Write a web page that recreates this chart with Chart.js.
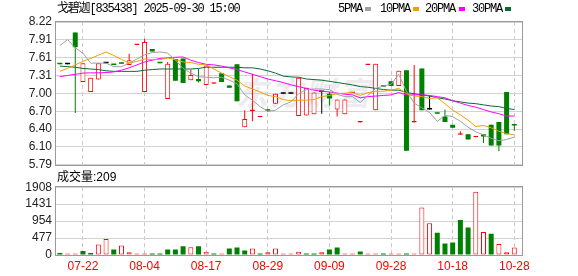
<!DOCTYPE html>
<html>
<head>
<meta charset="utf-8">
<script src="https://cdn.jsdelivr.net/npm/chart.js@4.4.1/dist/chart.umd.min.js"></script>
<style>
  html, body { margin:0; padding:0; background:#fff; }
  body { width:578px; height:276px; position:relative; overflow:hidden; }
  .txt { position:absolute; white-space:nowrap; font-size:12px; line-height:14px; color:#000; }
  .mono { font-family:"Liberation Mono","Noto Sans CJK SC",monospace; letter-spacing:-1.2px; }
  .sw { position:absolute; width:6px; height:4px; }
  #wm { position:absolute; left:236px; top:68px; font:italic bold 32px "Noto Sans CJK SC"; color:#ececef; letter-spacing:2px; white-space:nowrap; }
  canvas { position:absolute; left:0; }
</style>
</head>
<body>
<div id="wm">东方财富</div>
<canvas id="main" width="578" height="176" style="top:0"></canvas>
<canvas id="vol" width="578" height="100" style="top:176px"></canvas>
<div class="txt mono" style="left:57px;top:2px">戈碧迦[835438] 2025-09-30 15:00</div>
<div class="txt mono" style="left:338px;top:2px">5PMA</div>
<div class="sw" style="left:365px;top:7px;background:#a0a0a0"></div>
<div class="txt mono" style="left:380px;top:2px">10PMA</div>
<div class="sw" style="left:413px;top:7px;background:#f0a000"></div>
<div class="txt mono" style="left:425px;top:2px">20PMA</div>
<div class="sw" style="left:459px;top:7px;background:#ff00ff"></div>
<div class="txt mono" style="left:472px;top:2px">30PMA</div>
<div class="sw" style="left:505px;top:7px;background:#086b32"></div>
<div id="vlabel" class="txt" style="left:57px;top:170px;font-family:'Liberation Sans','Noto Sans CJK SC'"></div>
<script>
// ---- data ----
const tickLabels = ['07-22','08-04','08-17','08-29','09-09','09-28','10-18','10-28'];
const tickBars = [4,12,20,28,36,44,52,60];
const priceTickLabels = ['5.79','6.10','6.40','6.70','7.00','7.31','7.61','7.91','8.22'];
const volumeTickLabels = ['0','477','954','1431','1908'];

const open = [7.52,7.50,8.04,7.20,7.03,7.24,7.52,7.50,7.52,7.49,7.83,7.03,7.76,7.53,6.91,7.59,7.60,7.23,7.25,7.15,
              7.17,7.35,7.14,7.50,6.43,6.70,6.60,6.73,6.83,7.00,7.00,6.62,6.63,6.65,7.03,7.00,6.73,6.65,7.01,6.51,
              7.49,6.72,7.13,7.21,7.13,7.40,6.51,7.43,6.73,6.67,6.61,6.47,6.30,6.31,6.26,6.31,6.47,6.52,7.03,6.47];
const high = [7.52,7.50,8.04,7.52,7.27,7.52,7.52,7.50,7.52,7.68,7.84,7.93,7.76,7.53,7.54,7.59,7.60,7.41,7.42,7.48,
              7.18,7.35,7.14,7.50,6.72,7.34,6.61,6.73,7.00,7.00,7.00,7.27,7.10,7.02,7.03,7.03,6.90,6.90,7.02,6.52,
              7.50,7.51,7.13,7.21,7.39,7.40,7.49,7.43,6.97,6.67,6.73,6.47,6.36,6.31,6.27,6.31,6.47,6.52,7.03,6.47];
const low = [7.50,7.50,6.67,7.20,7.03,7.24,7.52,7.49,7.51,7.49,7.83,7.03,7.72,7.52,6.91,7.22,7.18,7.23,7.19,7.15,
             7.17,7.20,7.10,6.87,6.43,6.53,6.60,6.69,6.83,7.00,7.00,6.62,6.63,6.65,6.66,6.80,6.61,6.65,7.01,6.51,
             7.49,6.72,7.12,7.13,7.13,6.03,6.51,6.72,6.73,6.66,6.52,6.42,6.30,6.22,6.26,6.16,6.12,6.02,6.31,6.37];
const close = [7.50,7.50,7.79,7.52,7.27,7.52,7.52,7.49,7.51,7.57,7.84,7.88,7.72,7.52,7.51,7.22,7.18,7.32,7.21,7.48,
               7.18,7.20,7.10,6.87,6.57,6.73,6.61,6.71,7.00,7.00,7.00,7.27,7.10,7.02,7.03,6.92,6.90,6.90,7.02,6.52,
               7.50,7.51,7.12,7.13,7.39,6.03,6.52,6.72,6.73,6.66,6.52,6.42,6.31,6.22,6.27,6.27,6.12,6.12,6.31,6.46];
const volume = [55,40,40,111,55,295,452,157,267,74,40,40,40,40,157,157,249,221,249,92,
                40,40,184,212,129,184,40,74,184,40,40,92,40,40,74,157,212,40,40,101,
                40,40,40,40,40,40,40,1337,894,627,323,350,987,774,1779,645,599,313,74,209];
const ma5 = [7.82,7.92,7.78,7.69,7.52,7.52,7.52,7.46,7.46,7.52,7.59,7.66,7.70,7.71,7.69,7.57,7.43,7.35,7.29,7.28,
             7.27,7.28,7.23,7.17,6.98,6.89,6.78,6.70,6.72,6.81,6.86,7.00,7.07,7.08,7.08,7.07,6.99,6.95,6.95,6.85,
             6.97,7.09,7.13,7.16,7.33,7.04,6.84,6.76,6.68,6.53,6.63,6.61,6.53,6.43,6.35,6.30,6.24,6.20,6.22,6.26];
const ma10 = [7.38,7.43,7.49,7.55,7.60,7.655,7.71,7.65,7.585,7.52,7.55,7.59,7.58,7.58,7.61,7.58,7.54,7.53,7.50,7.49,
              7.42,7.35,7.29,7.23,7.13,7.08,7.03,6.97,6.95,6.90,6.88,6.89,6.89,6.90,6.95,6.97,7.00,7.01,7.02,6.97,
              7.02,7.04,7.04,7.06,7.09,7.00,6.96,6.95,6.92,6.93,6.83,6.72,6.64,6.55,6.44,6.46,6.42,6.36,6.32,6.30];
const ma20 = [7.29,7.31,7.33,7.35,7.355,7.355,7.36,7.37,7.40,7.44,7.49,7.54,7.57,7.60,7.61,7.62,7.625,7.57,7.53,7.50,
              7.49,7.47,7.44,7.41,7.37,7.33,7.29,7.25,7.22,7.19,7.15,7.12,7.09,7.06,7.04,7.03,7.01,6.99,6.98,6.93,
              6.95,6.96,6.97,6.98,7.02,6.98,6.98,6.98,6.97,6.95,6.93,6.88,6.84,6.80,6.77,6.73,6.69,6.66,6.62,6.62];
const ma30 = [7.47,7.46,7.45,7.43,7.42,7.41,7.39,7.38,7.38,7.38,7.38,7.40,7.41,7.42,7.42,7.42,7.42,7.42,7.43,7.45,
              7.45,7.45,7.45,7.45,7.44,7.44,7.42,7.39,7.35,7.30,7.285,7.28,7.25,7.24,7.23,7.21,7.19,7.17,7.15,7.12,
              7.11,7.09,7.07,7.06,7.06,7.02,7.00,6.98,6.96,6.93,6.91,6.88,6.86,6.84,6.83,6.81,6.79,6.78,6.75,6.73];

// ---- styling ----
const RED = '#ff0000', GREEN = '#008000', BLACK = '#000000';
const FRAME = '#9a9a9a', GRID = '#d2d2d2', VGRID = '#c8c8c8', LABEL = '#222222';
const MA_COLORS = ['#a0a0a0', '#f0a000', '#ff00ff', '#086b32'];

Chart.defaults.font.family = "'Liberation Sans', Arial, sans-serif";
Chart.defaults.font.size = 12;

const xs = close.map((_, i) => i + 1);
const dir = close.map((c, i) => c > open[i] ? 1 : (c < open[i] ? -1 : 0));
const candleCol = dir.map(d => d > 0 ? RED : (d < 0 ? GREEN : BLACK));
const volUp = close.map((c, i) => i === 0 ? c >= open[0] : c >= close[i - 1]);

const priceMin = parseFloat(priceTickLabels[0]);
const priceMax = parseFloat(priceTickLabels[priceTickLabels.length - 1]);
const volTicks = volumeTickLabels.map(parseFloat);

document.getElementById('vlabel').textContent = '成交量:' + volume[volume.length - 1];

const framePlugin = {
  id: 'frame',
  beforeDatasetsDraw(chart) {
    const { ctx, chartArea: a } = chart;
    ctx.save();
    ctx.strokeStyle = FRAME;
    ctx.lineWidth = 1;
    ctx.strokeRect(Math.round(a.left) - 0.5, Math.round(a.top) - 0.5,
                   Math.round(a.right - a.left) + 1, Math.round(a.bottom - a.top) + 1);
    ctx.restore();
  }
};

function xScale(showLabels) {
  return {
    type: 'linear', min: 0.5, max: xs.length + 1, offset: false,
    afterBuildTicks: s => { s.ticks = tickBars.map(v => ({ value: v })); },
    afterFit: s => { s.height = showLabels ? 21 : 0; },
    ticks: { display: showLabels, autoSkip: false, maxRotation: 0, padding: 4, color: RED,
             callback: (v, i) => tickLabels[i] },
    grid: { display: true, color: VGRID, lineWidth: 1, drawTicks: false, offset: false },
    border: { display: false, dash: [4, 3] }
  };
}

const common = {
  responsive: false, devicePixelRatio: 1, animation: false, events: [],
  plugins: { legend: { display: false }, tooltip: { enabled: false } }
};

const lineDs = (data, color, order) => ({
  type: 'line', data: xs.map((x, i) => ({ x, y: data[i] })), borderColor: color,
  borderWidth: 1, pointRadius: 0, tension: 0, fill: false, order
});

new Chart(document.getElementById('main'), {
  type: 'bar',
  data: {
    datasets: [
      lineDs(ma5, MA_COLORS[0], 1),
      lineDs(ma10, MA_COLORS[1], 2),
      lineDs(ma20, MA_COLORS[2], 3),
      lineDs(ma30, MA_COLORS[3], 4),
      {
        type: 'bar', data: xs.map((x, i) => ({ x, y: [Math.min(open[i], close[i]), Math.max(open[i], close[i])] })),
        backgroundColor: dir.map(d => d > 0 ? '#ffffff' : (d < 0 ? GREEN : BLACK)),
        borderColor: candleCol, borderWidth: dir.map(d => d > 0 ? 1 : 0), borderSkipped: false,
        barThickness: 5, grouped: false, inflateAmount: 0, minBarLength: 1.5, order: 10
      },
      {
        type: 'bar', data: xs.map((x, i) => ({ x, y: [low[i], high[i]] })),
        backgroundColor: candleCol, borderWidth: 0, barThickness: 1, grouped: false,
        inflateAmount: 0, minBarLength: 1, order: 20
      }
    ]
  },
  options: Object.assign({}, common, {
    layout: { padding: { top: 22, right: 56, bottom: 10, left: 0 } },
    scales: {
      x: xScale(false),
      y: {
        type: 'linear', min: priceMin, max: priceMax,
        afterBuildTicks: s => {
          const n = priceTickLabels.length;
          s.ticks = priceTickLabels.map((_, k) => ({ value: priceMin + k * (priceMax - priceMin) / (n - 1) }));
        },
        afterFit: s => { s.width = 56; },
        ticks: { autoSkip: false, padding: 4, color: LABEL, callback: (v, i) => priceTickLabels[i] },
        grid: { color: GRID, drawTicks: false },
        border: { display: false }
      }
    }
  }),
  plugins: [framePlugin]
});

new Chart(document.getElementById('vol'), {
  type: 'bar',
  data: {
    datasets: [{
      data: xs.map((x, i) => ({ x, y: volume[i] })),
      backgroundColor: volUp.map(u => u ? '#ffffff' : GREEN),
      borderColor: volUp.map(u => u ? RED : GREEN),
      borderWidth: volUp.map(u => u ? 1 : 0), borderSkipped: false,
      barThickness: 5, inflateAmount: 0, minBarLength: 1
    }]
  },
  options: Object.assign({}, common, {
    layout: { padding: { top: 11, right: 56, bottom: 0, left: 0 } },
    scales: {
      x: xScale(true),
      y: {
        type: 'linear', min: volTicks[0], max: volTicks[volTicks.length - 1],
        afterBuildTicks: s => { s.ticks = volTicks.map(v => ({ value: v })); },
        afterFit: s => { s.width = 56; },
        ticks: { autoSkip: false, padding: 4, color: LABEL, callback: (v, i) => volumeTickLabels[i] },
        grid: { color: GRID, drawTicks: false },
        border: { display: false }
      }
    }
  }),
  plugins: [framePlugin]
});
</script>
</body>
</html>
